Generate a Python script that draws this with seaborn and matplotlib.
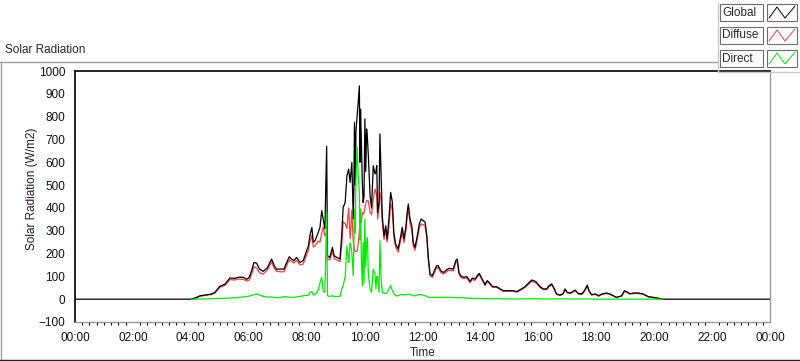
import numpy as np
import pandas as pd
import matplotlib
matplotlib.use('Agg')
import matplotlib.pyplot as plt
from matplotlib.lines import Line2D
from matplotlib.patches import Rectangle
from matplotlib.ticker import MultipleLocator
import seaborn as sns

# --- data (time in hours, W/m2) ---
hours = [
    4.00, 4.15, 4.32, 4.49, 4.72, 4.83, 5.00, 5.18, 5.35, 5.52, 5.64, 5.81, 5.93,
    6.02, 6.10, 6.18, 6.27, 6.37, 6.50, 6.64, 6.79, 6.88, 6.96, 7.11, 7.22, 7.31,
    7.40, 7.48, 7.56, 7.65, 7.77, 7.88, 8.06, 8.11, 8.18, 8.23, 8.29, 8.40, 8.46,
    8.52, 8.57, 8.63, 8.69, 8.72, 8.80, 8.89, 8.95, 9.04, 9.15, 9.21, 9.26, 9.33,
    9.39, 9.45, 9.50, 9.56, 9.61, 9.63, 9.65, 9.68, 9.70, 9.74, 9.78, 9.82, 9.84,
    9.86, 9.89, 9.92, 9.95, 9.98, 10.01, 10.04, 10.07, 10.10, 10.13,
    10.19, 10.24, 10.30, 10.36, 10.39, 10.42, 10.45,
    10.50, 10.53, 10.57, 10.61, 10.67, 10.73, 10.78, 10.84, 10.90, 10.96, 11.01,
    11.07, 11.16, 11.25, 11.30, 11.36, 11.43, 11.47, 11.51, 11.57, 11.63, 11.68,
    11.74, 11.82, 11.89, 11.95, 12.03, 12.09, 12.15, 12.20, 12.26, 12.34, 12.41,
    12.49, 12.54, 12.63, 12.72, 12.80, 12.91, 13.06, 13.15, 13.20, 13.26, 13.32,
    13.41, 13.53, 13.64, 13.72, 13.81, 13.89, 13.96, 14.04, 14.16, 14.23, 14.30,
    14.42, 14.56, 14.68, 14.79, 14.96, 15.13, 15.25, 15.42, 15.54, 15.65, 15.77,
    15.85, 15.94, 16.06, 16.17, 16.29, 16.37, 16.46, 16.54, 16.63, 16.75, 16.86,
    16.92, 17.00, 17.11, 17.27, 17.38, 17.50, 17.59, 17.69, 17.75, 17.84, 17.97,
    18.08, 18.20, 18.36, 18.47, 18.59, 18.70, 18.80, 18.88, 18.97, 19.05, 19.16,
    19.28, 19.45, 19.62, 19.80, 19.97, 20.14, 20.28,
]

global_rad = [
    0, 5, 15, 18, 23, 30, 56, 66, 93, 91, 96, 96, 87,
    96, 125, 161, 158, 132, 122, 137, 176, 147, 131, 132, 132, 161,
    186, 176, 169, 183, 161, 169, 234, 278, 315, 249, 256, 293, 315,
    388, 351, 308, 670, 190, 183, 227, 190, 183, 176, 278, 402, 424,
    541, 570, 512, 599, 352, 480, 775, 500, 731, 800, 862, 935, 600,
    833, 687, 520, 424, 450, 790, 560, 746, 700, 629,
    454, 400, 585, 549, 556, 585, 380,
    424, 724, 541, 366, 278, 322, 264, 351, 468, 424, 293,
    242, 220, 278, 315, 264, 322, 380, 417, 351, 322, 249,
    227, 278, 330, 351, 344, 337, 278, 183, 110, 103, 125,
    147, 147, 125, 117, 125, 135, 132, 169, 176, 117, 103,
    96, 99, 78, 93, 88, 103, 113, 93, 64, 81, 74,
    55, 55, 45, 37, 37, 37, 33, 45, 55, 69, 84,
    81, 74, 55, 45, 45, 59, 67, 49, 23, 18, 25,
    45, 30, 27, 40, 25, 23, 37, 62, 37, 20, 23,
    15, 23, 27, 23, 15, 8, 12, 15, 37, 33, 24,
    27, 27, 23, 11, 8, 4, 0,
]

diffuse_rad = [
    0, 4, 13, 16, 21, 27, 52, 61, 86, 84, 88, 87, 79,
    84, 110, 142, 137, 116, 110, 127, 163, 136, 122, 120, 120, 148,
    173, 165, 158, 170, 150, 154, 215, 250, 280, 228, 235, 255, 250,
    290, 315, 278, 290, 178, 172, 210, 178, 172, 165, 235, 340, 330,
    310, 400, 265, 390, 250, 230, 215, 208, 210, 210, 240, 300, 330,
    351, 337, 380, 373, 380, 400, 420, 432, 432, 430,
    380, 370, 439, 483, 470, 454, 351,
    400, 468, 440, 340, 262, 300, 250, 320, 420, 390, 275,
    228, 206, 262, 296, 248, 302, 360, 395, 333, 305, 235,
    214, 262, 312, 330, 326, 320, 265, 175, 103, 95, 116,
    138, 139, 117, 110, 117, 127, 124, 160, 165, 110, 96,
    90, 93, 72, 87, 82, 97, 107, 88, 60, 77, 70,
    52, 52, 43, 35, 35, 35, 31, 42, 51, 64, 78,
    75, 69, 51, 42, 42, 55, 62, 46, 21, 16, 23,
    41, 28, 25, 37, 23, 21, 34, 57, 34, 18, 21,
    13, 21, 25, 21, 14, 7, 11, 14, 34, 30, 22,
    25, 25, 21, 10, 7, 4, 0,
]

direct_rad = [
    0, 0, 1, 1, 2, 2, 3, 4, 5, 6, 8, 10, 11,
    14, 17, 20, 23, 18, 12, 9, 10, 8, 6, 8, 11, 10,
    9, 8, 8, 10, 12, 15, 18, 30, 33, 18, 20, 40, 70,
    96, 35, 30, 380, 15, 12, 15, 12, 12, 12, 45, 60, 100,
    234, 161, 249, 205, 103, 250, 395, 290, 520, 667, 541, 468, 260,
    395, 176, 59, 249, 70, 351, 140, 249, 270, 103,
    45, 30, 132, 110, 45, 100, 96,
    30, 256, 96, 30, 25, 25, 30, 45, 59, 37, 25,
    15, 15, 20, 20, 18, 20, 20, 22, 20, 18, 15,
    15, 18, 20, 20, 18, 15, 12, 8, 8, 8, 8,
    8, 8, 8, 8, 8, 8, 7, 7, 7, 6, 6,
    6, 5, 4, 4, 3, 3, 3, 3, 2, 2, 2,
    2, 2, 2, 1, 1, 1, 1, 1, 1, 2, 2,
    2, 2, 1, 1, 1, 1, 1, 1, 1, 1, 1,
    1, 1, 1, 1, 1, 1, 1, 1, 1, 0, 0,
    0, 0, 0, 0, 0, 0, 0, 0, 0, 0, 0,
    0, 0, 0, 0, 0, 0, 0,
]

day_start, day_end = 0.0, 24.0
x_ticks = np.arange(0, 25, 2)
x_tick_labels = ['00:00', '02:00', '04:00', '06:00', '08:00', '10:00', '12:00',
                 '14:00', '16:00', '18:00', '20:00', '22:00', '00:00']
y_ticks = np.arange(-100, 1001, 100)

series_names = ['Global', 'Diffuse', 'Direct']
series_colors = {'Global': '#000000', 'Diffuse': '#ff3c3c', 'Direct': '#00ee00'}

# --- style ---
sns.set_style('white')
plt.rcParams['font.family'] = ['Liberation Sans', 'DejaVu Sans']
plt.rcParams['font.size'] = 8.5

W, H = 800, 361


def fx(px):
    return px / W


def fy(py):
    return 1 - py / H


fig = plt.figure(figsize=(8, 3.61), dpi=100)
ax = fig.add_axes([fx(75), fy(322), fx(770) - fx(75), fy(71) - fy(322)])

# global line spans the whole day (zero at night)
g_hours = [day_start] + hours + [day_end]
g_vals = [0] + global_rad + [0]

sns.lineplot(x=hours, y=diffuse_rad, ax=ax, color=series_colors['Diffuse'],
             linewidth=0.9, estimator=None)
sns.lineplot(x=g_hours, y=g_vals, ax=ax, color=series_colors['Global'],
             linewidth=0.9, estimator=None)
sns.lineplot(x=hours, y=direct_rad, ax=ax, color=series_colors['Direct'],
             linewidth=0.9, estimator=None)

ax.set_xlim(day_start, day_end)
ax.set_ylim(-100, 1000)
ax.set_xticks(x_ticks)
ax.set_xticklabels(x_tick_labels)
ax.xaxis.set_minor_locator(MultipleLocator(0.25))
ax.set_yticks(y_ticks)
ax.tick_params(axis='both', which='major', direction='out', length=5, width=0.8,
               color='black', labelsize=8.5, labelcolor='#111111', pad=2)
ax.tick_params(axis='x', which='minor', direction='out', length=2.5, width=0.8,
               color='black', bottom=True)
ax.set_xlabel('Time', fontsize=8.5, labelpad=2)
ax.set_ylabel('Solar Radiation (W/m2)', fontsize=8.5, color='#2a1a1a')
ax.yaxis.set_label_coords(-0.053, 0.53)

for side in ['top', 'left']:
    ax.spines[side].set_color('black')
    ax.spines[side].set_linewidth(1.2)
for side in ['right', 'bottom']:
    ax.spines[side].set_color('#9a9a9a')
    ax.spines[side].set_linewidth(1.0)

# panel frame and caption
fig.add_artist(Line2D([fx(1), fx(1)], [fy(62), fy(360)], color='#a0a0a0', lw=1,
                      transform=fig.transFigure))
fig.add_artist(Line2D([0, fx(718)], [fy(62), fy(62)], color='#a0a0a0', lw=1,
                      transform=fig.transFigure))
fig.add_artist(Line2D([0, 1], [fy(360), fy(360)], color='#202020', lw=1,
                      transform=fig.transFigure))
fig.text(fx(5), fy(50), 'Solar Radiation', fontsize=8.5, ha='left', va='center')

# legend panel in LabVIEW style
fig.add_artist(Line2D([fx(718), fx(718)], [fy(72), fy(3)], color='#c8c8c8', lw=1,
                      transform=fig.transFigure))
fig.add_artist(Line2D([fx(718), 1], [fy(72), fy(72)], color='#c8c8c8', lw=1,
                      transform=fig.transFigure))
for i, name in enumerate(series_names):
    top = 4 + 23 * i
    fig.add_artist(Rectangle((fx(720), fy(top + 17)), fx(43), 17 / H,
                             facecolor='white', edgecolor='#6e6e6e', lw=0.8,
                             transform=fig.transFigure))
    fig.text(fx(722), fy(top + 8.5), name, fontsize=8.5, ha='left', va='center')
    fig.add_artist(Rectangle((fx(767), fy(top + 17)), fx(30), 17 / H,
                             facecolor='white', edgecolor='#6e6e6e', lw=0.8,
                             transform=fig.transFigure))
    zx = [fx(769), fx(777), fx(785), fx(795)]
    zy = [fy(top + 14), fy(top + 3), fy(top + 14), fy(top + 2)]
    fig.add_artist(Line2D(zx, zy, color=series_colors[name], lw=0.7,
                          transform=fig.transFigure))

fig.savefig('out.png', dpi=100)
